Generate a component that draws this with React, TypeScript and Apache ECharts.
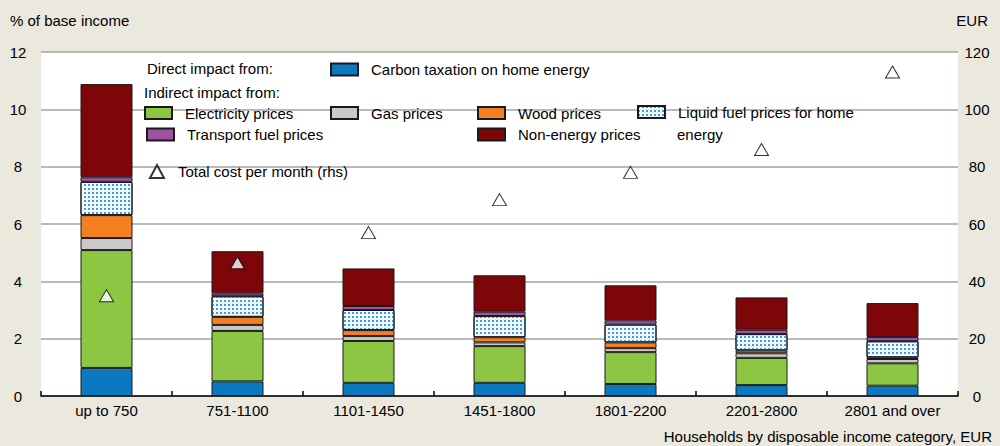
import React, { useEffect, useRef } from "react";
import * as echarts from "echarts";

const categories = ["up to 750", "751-1100", "1101-1450", "1451-1800", "1801-2200", "2201-2800", "2801 and over"];
const carbon = [0.98, 0.51, 0.46, 0.46, 0.42, 0.38, 0.36];
const electricity = [4.11, 1.76, 1.46, 1.28, 1.11, 0.95, 0.78];
const gas = [0.42, 0.21, 0.17, 0.13, 0.14, 0.16, 0.15];
const wood = [0.8, 0.28, 0.21, 0.18, 0.2, 0.1, 0.06];
const liquid = [1.16, 0.72, 0.7, 0.74, 0.62, 0.57, 0.56];
const transport = [0.16, 0.1, 0.14, 0.15, 0.15, 0.15, 0.15];
const nonEnergy = [3.25, 1.47, 1.31, 1.27, 1.22, 1.13, 1.18];
const totalCost = [35, 46.5, 57, 68.5, 78, 86, 113];

const leftTicks = { min: 0, max: 12, interval: 2 };
const rightTicks = { min: 0, max: 120, interval: 20 };

const FONT = "'Liberation Sans', Arial, sans-serif";
const BG = "#ebe8de";
const BORDER = "#1a1a1a";

const barSeries = [
  { name: "Carbon taxation on home energy", data: carbon, color: "#0a79c1" },
  { name: "Electricity prices", data: electricity, color: "#8dc643" },
  { name: "Gas prices", data: gas, color: "#c9c9c9" },
  { name: "Wood prices", data: wood, color: "#f47f20" },
  { name: "Liquid fuel prices for home energy", data: liquid, color: "#f2f8fd", decal: true },
  { name: "Transport fuel prices", data: transport, color: "#a052a2" },
  { name: "Non-energy prices", data: nonEnergy, color: "#7e0508" },
];
const scatterName = "Total cost per month (rhs)";

export default function App() {
  const ref = useRef<HTMLDivElement>(null);
  useEffect(() => {
    if (!ref.current) return;
    const chart = echarts.init(ref.current, null, { renderer: "svg" });

    const series: any[] = barSeries.map((s) => ({
      name: s.name,
      type: "bar",
      stack: "total",
      barWidth: 52,
      data: s.data,
      itemStyle: {
        color: s.color,
        borderColor: BORDER,
        borderWidth: 1,
        decal: s.decal
          ? {
              symbol: "rect",
              symbolSize: 1,
              color: "#3f9fdd",
              dashArrayX: [2, 2],
              dashArrayY: [2, 2],
            }
          : undefined,
      },
    }));
    series.push({
      name: scatterName,
      type: "scatter",
      yAxisIndex: 1,
      symbol: "triangle",
      symbolSize: [14, 12],
      data: totalCost,
      z: 10,
      itemStyle: { color: "#ffffff", borderColor: "#000000", borderWidth: 1 },
    });

    const legendItem = (name: string, left: number, top: number, extra: any = {}) => ({
      data: [name],
      left,
      top,
      padding: 0,
      orient: "horizontal",
      selectedMode: false,
      itemWidth: 27,
      itemHeight: 12,
      icon: "rect",
      textStyle: {
        fontFamily: FONT,
        fontSize: 15,
        color: "#000",
        lineHeight: 18,
        padding: [0, 0, 0, 8],
      },
      ...extra,
    });

    const legends = [
      legendItem(barSeries[0].name, 330, 69.5 - 9),
      legendItem(barSeries[1].name, 144, 113 - 9),
      legendItem(barSeries[2].name, 330, 113 - 9),
      legendItem(barSeries[3].name, 477, 113 - 9),
      legendItem(barSeries[4].name, 637, 112 - 9, {
        formatter: () => "Liquid fuel prices for home",
      }),
      legendItem(barSeries[5].name, 146, 134.5 - 9),
      legendItem(barSeries[6].name, 477, 134.5 - 9),
      legendItem(scatterName, 149, 171.5 - 9, {
        icon: "triangle",
        itemWidth: 14,
        itemHeight: 13,
        textStyle: {
          fontFamily: FONT,
          fontSize: 15,
          color: "#000",
          lineHeight: 18,
          padding: [0, 0, 0, 9],
        },
      }),
    ];

    const textStyle = (x: number, y: number, text: string, align: string = "left") => ({
      type: "text",
      x,
      y,
      style: {
        text,
        fill: "#000",
        font: `15px ${FONT}`,
        textAlign: align,
        textVerticalAlign: "middle",
      },
    });

    chart.setOption({
      animation: false,
      backgroundColor: BG,
      textStyle: { fontFamily: FONT },
      grid: {
        left: 41,
        right: 42,
        top: 52,
        bottom: 50,
        show: true,
        backgroundColor: "#ffffff",
        borderWidth: 0,
      },
      legend: legends,
      xAxis: {
        type: "category",
        data: categories,
        axisLine: { show: true, lineStyle: { color: "#000", width: 1.5 } },
        axisTick: { show: true, inside: true, length: 5, lineStyle: { color: "#000", width: 1.5 } },
        axisLabel: { color: "#000", fontSize: 15, fontFamily: FONT, margin: 7 },
        splitLine: { show: false },
      },
      yAxis: [
        {
          type: "value",
          ...leftTicks,
          axisLine: { show: false },
          axisTick: { show: false },
          axisLabel: { color: "#000", fontSize: 15, fontFamily: FONT, margin: 23, align: "center" },
          splitLine: { show: true, lineStyle: { color: "#a3a3a3", width: 1.5 } },
        },
        {
          type: "value",
          ...rightTicks,
          axisLine: { show: false },
          axisTick: { show: false },
          axisLabel: { color: "#000", fontSize: 15, fontFamily: FONT, margin: 19, align: "center" },
          splitLine: { show: false },
        },
      ],
      graphic: [
        textStyle(10, 20, "% of base income"),
        textStyle(988, 20, "EUR", "right"),
        textStyle(992, 436.5, "Households by disposable income category, EUR", "right"),
        textStyle(147, 68.3, "Direct impact from:"),
        textStyle(144, 92.7, "Indirect impact from:"),
        textStyle(677, 134.5, "energy"),
      ],
      series,
    });
    return () => chart.dispose();
  }, []);
  return <div ref={ref} style={{ width: 1000, height: 446, position: "absolute", left: 0, top: 0 }} />;
}
